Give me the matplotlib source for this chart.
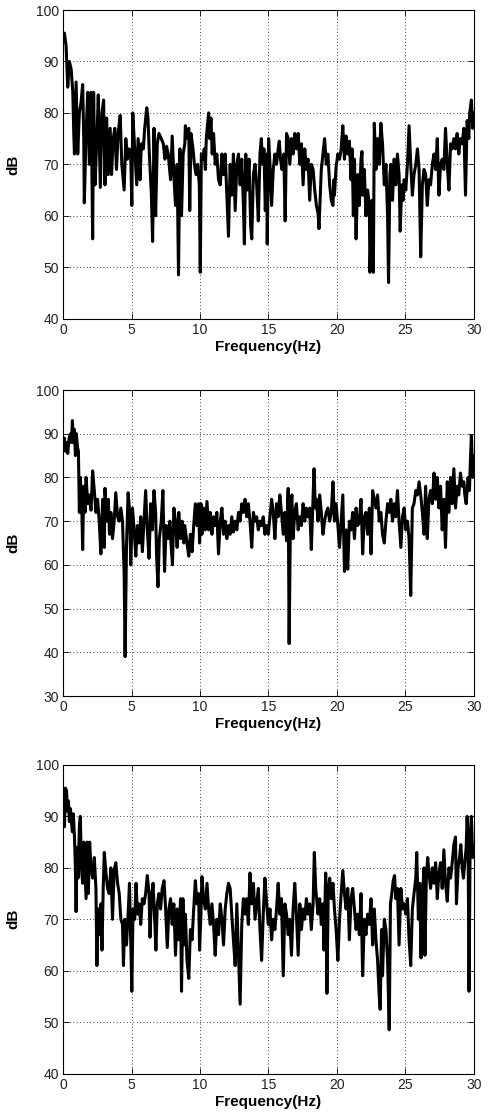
import numpy as np
import matplotlib
matplotlib.use("Agg")
import matplotlib.pyplot as plt

plt.rcParams["font.family"] = ["Liberation Sans", "DejaVu Sans"]

# panel 1 spectrum (Hz, dB)
freq1 = [0.0, 0.10, 0.22, 0.34, 0.46, 0.59, 0.71, 0.78, 0.83, 0.95, 1.02, 1.07, 1.19, 1.31, 1.43, 1.51, 1.55, 1.68, 1.80, 1.92,
         2.04, 2.16, 2.23, 2.33, 2.47, 2.57, 2.72, 2.84, 2.96, 3.06, 3.18, 3.30, 3.44, 3.54, 3.66, 3.78, 3.90, 4.02, 4.17, 4.29,
         4.46, 4.58, 4.70, 4.82, 4.94, 5.02, 5.09, 5.23, 5.38, 5.48, 5.62, 5.72, 5.86, 5.96, 6.11, 6.20, 6.30, 6.45, 6.54, 6.64,
         6.76, 6.88, 7.00, 7.17, 7.32, 7.44, 7.56, 7.68, 7.85, 7.97, 8.09, 8.21, 8.33, 8.43, 8.53, 8.65, 8.77, 8.89,
         8.93, 9.05, 9.18, 9.25, 9.34, 9.49, 9.59, 9.71, 9.83, 9.95, 10.02, 10.10, 10.22, 10.31, 10.39, 10.46, 10.56, 10.63, 10.70, 10.80,
         10.89, 10.99, 11.11, 11.23, 11.35, 11.48, 11.60, 11.72, 11.84, 11.96, 12.08, 12.20, 12.32, 12.44, 12.57, 12.69, 12.81, 12.93, 13.05, 13.17,
         13.24, 13.34, 13.46, 13.58, 13.70, 13.78, 13.90, 14.02, 14.14, 14.26, 14.38, 14.48, 14.57, 14.67, 14.77, 14.87, 14.91, 15.01, 15.11, 15.23,
         15.35, 15.47, 15.59, 15.71, 15.79, 15.88, 15.98, 16.12, 16.22, 16.32, 16.44, 16.56, 16.68, 16.80, 16.92, 17.04, 17.17, 17.29, 17.41, 17.53,
         17.65, 17.77, 17.89, 18.01, 18.13, 18.26, 18.38, 18.50, 18.62, 18.69, 18.86, 18.98, 19.10, 19.22, 19.34, 19.47, 19.59, 19.71, 19.78,
         19.82, 19.94, 20.07, 20.19, 20.31, 20.43, 20.55, 20.67, 20.79, 20.91, 21.03, 21.11, 21.20, 21.28, 21.40, 21.52, 21.64, 21.76, 21.83, 21.88,
         22.00, 22.12, 22.24, 22.37, 22.41, 22.56, 22.66, 22.73, 22.85, 22.97, 23.09, 23.21, 23.33, 23.46, 23.58, 23.70, 23.77, 23.87, 23.94, 24.06,
         24.18, 24.30, 24.42, 24.54, 24.62, 24.74, 24.84, 24.91, 25.03, 25.15, 25.27, 25.39, 25.51, 25.63, 25.76, 25.88, 26.00, 26.12, 26.24, 26.36,
         26.48, 26.60, 26.72, 26.84, 26.97, 27.09, 27.21, 27.33, 27.45, 27.57, 27.69, 27.81, 27.93, 28.06, 28.18, 28.30, 28.42, 28.54, 28.66, 28.78,
         28.90, 29.02, 29.15, 29.27, 29.39, 29.51, 29.63, 29.70, 29.82, 29.92, 30.0]
db1 = [94, 95.5, 93, 85, 90, 88.5, 84, 76, 72, 86, 78, 72, 80, 82, 85.5, 75, 62.5, 76, 84, 70,
       84, 55.5, 84, 66, 75, 83.5, 65.5, 80, 82.5, 66, 79, 68, 77, 68, 75, 77, 69, 76, 79.5, 70,
       65, 75, 71, 73, 72, 62, 80, 73, 66, 75, 67, 74, 73, 77, 81, 79, 72, 64, 55, 77,
       60, 74, 76, 75, 74, 71, 73.5, 72, 67, 75.5, 68, 62, 70, 48.5, 73, 60, 72, 74,
       77.5, 75, 77, 61, 76, 73, 70, 68, 70, 66, 49, 72, 71, 73, 69, 75, 78, 80, 75, 79,
       72, 76, 70, 72, 67, 66, 72, 68, 72, 64, 56, 70, 64, 72, 61, 70, 72, 66, 71, 62,
       54.5, 72, 65, 71, 58, 55.5, 68, 70, 66, 59, 72, 75, 70, 73, 61, 72, 54.5, 75, 70, 62,
       69, 72, 70, 73, 74.5, 71, 69, 72, 59, 76, 75, 70, 75, 72, 76, 73, 76, 70, 74, 66,
       73, 69, 71, 63, 70, 69, 65, 62, 60.5, 57.5, 69, 72, 75, 70, 72, 66, 63, 62, 67,
       64, 69.5, 72, 71, 73, 77.5, 71, 75.5, 72, 74.5, 67, 73, 60, 71, 55.5, 68, 62, 71, 72.5, 64,
       69, 60, 65, 62, 49, 63, 49, 78, 69, 75, 70, 78, 74, 66, 70, 60, 47, 68, 70, 63,
       71, 66, 72, 68, 57, 66, 63, 67, 65, 70, 77.5, 70, 64, 68, 70, 73, 69, 52, 66, 69,
       68, 62, 67, 66, 70, 72, 69, 75, 64, 70, 71, 69, 77, 70, 65, 74, 73, 75, 73, 76,
       72, 75, 74, 77, 64, 78.5, 75, 80, 82.5, 77, 80]

# panel 2 spectrum
freq2 = [0.0, 0.10, 0.17, 0.25, 0.34, 0.44, 0.54, 0.61, 0.68, 0.75, 0.83, 0.90, 0.97, 1.05, 1.12, 1.19, 1.26, 1.36, 1.43, 1.51,
         1.60, 1.68, 1.80, 1.92, 2.04, 2.16, 2.28, 2.40, 2.52, 2.64, 2.76, 2.89, 3.01, 3.06, 3.18, 3.30, 3.39, 3.49, 3.61, 3.73,
         3.85, 3.98, 4.10, 4.22, 4.34, 4.46, 4.53, 4.63, 4.75, 4.87, 4.94, 5.07, 5.19, 5.31, 5.43, 5.55, 5.67, 5.79, 5.91, 6.03,
         6.15, 6.28, 6.40, 6.52, 6.64, 6.76, 6.83, 6.93, 7.03, 7.17, 7.29, 7.41, 7.53, 7.66, 7.80, 7.90, 7.99, 8.09, 8.21, 8.33,
         8.45, 8.58, 8.70, 8.82, 8.89,
         8.93, 9.05, 9.18, 9.30, 9.42, 9.54, 9.66, 9.78, 9.90, 9.97, 10.07, 10.14, 10.26, 10.39, 10.51, 10.63, 10.75, 10.87, 10.99, 11.11,
         11.23, 11.35, 11.48, 11.60, 11.72, 11.84, 11.96, 12.08, 12.20, 12.32, 12.44, 12.57, 12.69, 12.81, 12.93, 13.05, 13.17, 13.29, 13.41, 13.53,
         13.65, 13.78, 13.90, 14.02, 14.14, 14.26, 14.38, 14.50, 14.62, 14.74, 14.87, 14.99, 15.11, 15.23, 15.35, 15.47, 15.59, 15.71, 15.83, 15.95,
         16.08, 16.20, 16.32, 16.44, 16.51, 16.61, 16.71, 16.80, 16.92, 17.04, 17.17, 17.29, 17.41, 17.53, 17.65, 17.77, 17.89, 18.01, 18.13, 18.26,
         18.33, 18.42, 18.50, 18.62, 18.74, 18.86, 18.98, 19.10, 19.22, 19.34, 19.47, 19.59, 19.71, 19.78,
         19.82, 19.94, 20.07, 20.19, 20.31, 20.43, 20.55, 20.67, 20.79, 20.91, 21.03, 21.15, 21.28, 21.40, 21.52, 21.64, 21.76, 21.88, 22.00, 22.12,
         22.24, 22.37, 22.49, 22.61, 22.73, 22.85, 22.97, 23.09, 23.21, 23.33, 23.46, 23.58, 23.70, 23.82, 23.94, 24.06, 24.18, 24.30, 24.42, 24.54,
         24.67, 24.79, 24.91, 25.03, 25.15, 25.27, 25.39, 25.51, 25.63, 25.76, 25.88, 26.00, 26.12, 26.24, 26.36, 26.48, 26.60, 26.72, 26.84, 26.97,
         27.09, 27.21, 27.33, 27.45, 27.57, 27.69, 27.81, 27.93, 28.06, 28.18, 28.30, 28.42, 28.54, 28.66, 28.78, 28.90, 29.02, 29.15, 29.27, 29.34,
         29.44, 29.58, 29.68, 29.75, 29.82, 29.92, 30.0]
db2 = [89, 89, 86, 88, 85.5, 89, 90, 88, 93, 88, 91, 85, 90, 87, 86, 72, 80, 74, 63.5, 78,
       72, 80, 74, 76, 72.5, 81.5, 77, 72, 75, 70, 62.5, 75, 64, 77.5, 70, 75, 67, 72, 66, 70,
       76.5, 71, 70, 73, 70, 58, 39, 64, 76.5, 72, 60, 73, 68, 62, 69, 65, 71, 63, 70, 77,
       68, 61.5, 74, 68, 77, 72, 62, 55, 66, 70, 77, 58.5, 69, 66, 70, 64, 60, 73, 70, 64,
       72, 66, 70, 65, 69,
       68, 65, 62, 67, 63, 69, 74, 69, 74, 65, 74, 67, 73, 68, 74.5, 68, 72, 67, 71, 69,
       72, 62.5, 70, 73, 67, 70, 66, 69, 67, 71, 67.5, 70, 68, 72, 70, 74, 72, 75, 71, 74,
       70, 64, 72, 70, 71, 68, 70, 69, 71, 67, 69, 67, 71, 75, 72, 66, 74, 71, 76, 72,
       67, 72, 65.5, 77.5, 42, 72, 76, 66, 72, 74, 68, 71, 69, 74, 70, 73, 71, 73, 63.5, 76,
       82, 73, 75, 70, 76, 72, 67, 70, 72, 73, 70, 72, 79, 73,
       70, 74, 69, 64, 70, 76, 58.5, 68, 59, 70, 68, 72, 66, 73, 69, 70, 75, 62.5, 71, 72,
       67, 73, 62.5, 77, 75, 73, 76, 70, 72, 67, 65, 70, 74, 72, 75, 70, 74, 71, 77, 70,
       64, 71, 73, 68, 70, 66, 53, 73, 74, 77, 76, 79, 76, 72, 67, 78, 66, 75, 77, 74,
       81, 75, 80, 73, 78, 68, 75, 64, 79, 72, 80, 74, 82, 73, 78, 76, 81, 78, 79, 76,
       74, 80, 77, 84, 89.5, 80, 85]

# panel 3 spectrum
freq3 = [0.0, 0.10, 0.17, 0.25, 0.32, 0.39, 0.46, 0.54, 0.61, 0.68, 0.75, 0.83, 0.90, 0.95, 1.02, 1.09, 1.19, 1.26, 1.34, 1.43,
         1.51, 1.60, 1.68, 1.75, 1.84, 1.94, 2.04, 2.16, 2.28, 2.40, 2.47, 2.57, 2.67, 2.76, 2.84, 2.93, 3.01, 3.13, 3.25, 3.37,
         3.49, 3.61, 3.73, 3.85, 3.98, 4.10, 4.22, 4.34, 4.41, 4.51, 4.63, 4.75, 4.85, 4.94, 5.02, 5.11, 5.23, 5.33, 5.43, 5.55,
         5.67, 5.79, 5.91, 6.03, 6.15, 6.28, 6.35, 6.45, 6.57, 6.69, 6.78, 6.88, 7.00, 7.12, 7.24, 7.37, 7.49, 7.61, 7.73, 7.85,
         7.97, 8.09, 8.21, 8.33, 8.45, 8.58, 8.65, 8.75, 8.87,
         8.93, 9.05, 9.18, 9.30, 9.42, 9.54, 9.66, 9.78, 9.90, 9.97, 10.07, 10.14, 10.26, 10.39, 10.51, 10.63, 10.75, 10.87, 10.99, 11.11,
         11.23, 11.35, 11.48, 11.60, 11.72, 11.84, 11.96, 12.08, 12.20, 12.32, 12.44, 12.57, 12.69, 12.81, 12.93, 13.05, 13.17, 13.29, 13.41, 13.53,
         13.65, 13.78, 13.90, 14.02, 14.14, 14.26, 14.38, 14.50, 14.62, 14.74, 14.87, 14.99, 15.11, 15.23, 15.35, 15.47, 15.59, 15.71, 15.83, 15.95,
         16.08, 16.20, 16.32, 16.44, 16.56, 16.68, 16.80, 16.92, 17.04, 17.17, 17.29, 17.41, 17.53, 17.65, 17.77, 17.89, 18.01, 18.13, 18.26, 18.35,
         18.45, 18.55, 18.62, 18.74, 18.86, 18.98, 19.05, 19.18, 19.27, 19.37, 19.47, 19.59, 19.71, 19.78,
         19.82, 19.94, 20.07, 20.19, 20.31, 20.43, 20.55, 20.67, 20.79, 20.91, 21.03, 21.15, 21.28, 21.40, 21.52, 21.64, 21.76, 21.88, 22.00, 22.12,
         22.24, 22.37, 22.49, 22.61, 22.73, 22.85, 22.97, 23.09, 23.16, 23.26, 23.33, 23.46, 23.58, 23.70, 23.82, 23.91, 24.01, 24.11, 24.21, 24.30,
         24.42, 24.54, 24.67, 24.79, 24.91, 25.03, 25.15, 25.27, 25.39, 25.51, 25.63, 25.76, 25.83, 25.95, 26.05, 26.14, 26.24, 26.36, 26.43, 26.53,
         26.63, 26.72, 26.84, 26.97, 27.09, 27.21, 27.33, 27.45, 27.57, 27.69, 27.81, 27.93, 28.06, 28.18, 28.30, 28.42, 28.54, 28.66, 28.73, 28.85,
         28.95, 29.05, 29.15, 29.24, 29.34, 29.44, 29.51, 29.58, 29.65, 29.73, 29.82, 29.92, 30.0]
db3 = [88, 88, 95.5, 95, 91, 93, 89, 91.5, 89, 87, 90.5, 86, 80, 71.5, 84, 78, 88, 90, 80, 77,
       85, 79, 74, 85, 75, 85, 80, 78, 82, 76, 61, 72, 67, 73, 64, 76, 83, 79, 76, 75,
       80, 70, 79.5, 81, 77, 75, 70, 69, 61, 70, 65, 71, 77, 66, 56, 72, 70, 77, 71, 73,
       69, 74, 73, 75, 78.5, 75, 66.5, 74, 77, 70, 64, 73, 75, 72, 76, 77.5, 72, 64.5, 72, 74,
       69, 73, 63, 72, 66, 74, 56, 74, 65,
       71, 62, 58.5, 68, 66, 72, 77.5, 73, 75, 64, 71, 78.3, 74, 72, 77, 72, 69, 73, 69, 63,
       70, 67, 73, 70, 65, 72, 75, 77, 76, 71, 66, 61, 73, 63, 53.5, 69, 74, 71, 74, 69,
       79, 73, 77, 70, 73, 76, 68, 62, 71, 78, 73, 69, 72, 66, 70, 68, 72, 77, 71, 74,
       59, 73, 71, 67, 70, 63, 72, 77, 71, 63, 73, 68, 72, 70, 74, 71, 73, 68, 73, 83,
       76, 73, 71, 74, 69, 73, 64, 79, 55.6, 76, 78, 74, 77, 74,
       72, 68, 62, 70, 75, 79.5, 75, 72, 76, 66, 74, 76, 72, 68, 71, 67, 75, 59, 70, 67,
       71, 69, 74, 65, 72, 66, 62, 55, 52.5, 68, 59, 70, 68, 62, 48.5, 73, 75, 77.5, 78.5, 74,
       76, 65, 76, 72, 73, 71, 74, 66, 61, 72, 75, 78, 83, 70, 77, 62.5, 74, 80, 63, 78,
       82, 79, 76, 80, 77, 81, 74, 79, 81, 76, 83.5, 77, 73.5, 80, 78, 81, 84.5, 86, 73, 80,
       82, 84.5, 80, 78, 81, 84, 90, 85, 56, 86, 90, 82, 84]

panels = [(freq1, db1, 40), (freq2, db2, 30), (freq3, db3, 40)]
xticks = [0, 5, 10, 15, 20, 25, 30]

fig = plt.figure(figsize=(4.89, 11.14), dpi=100)
rects = [[0.129, 0.7140, 0.840, 0.2770],
         [0.129, 0.3752, 0.840, 0.2747],
         [0.129, 0.0363, 0.840, 0.2770]]

for (f, d, ymin), r in zip(panels, rects):
    ax = fig.add_axes(r)
    ax.plot(f, d, color="black", linewidth=2.2)
    ax.set_xlim(0, 30)
    ax.set_ylim(ymin, 100)
    ax.set_xticks(xticks)
    ax.set_yticks(np.arange(ymin, 101, 10))
    ax.grid(True, color="black", linestyle=(0, (1, 3)), linewidth=0.6)
    ax.tick_params(direction="in", length=4, width=0.6, labelsize=10, pad=3,
                   top=True, right=True, labelcolor="#222222")
    for s in ax.spines.values():
        s.set_linewidth(0.8)
    ax.set_xlabel("Frequency(Hz)", fontsize=11, fontweight="bold", labelpad=2)
    ax.set_ylabel("dB", fontsize=11, fontweight="bold", labelpad=11)

fig.savefig("out.png", dpi=100)
